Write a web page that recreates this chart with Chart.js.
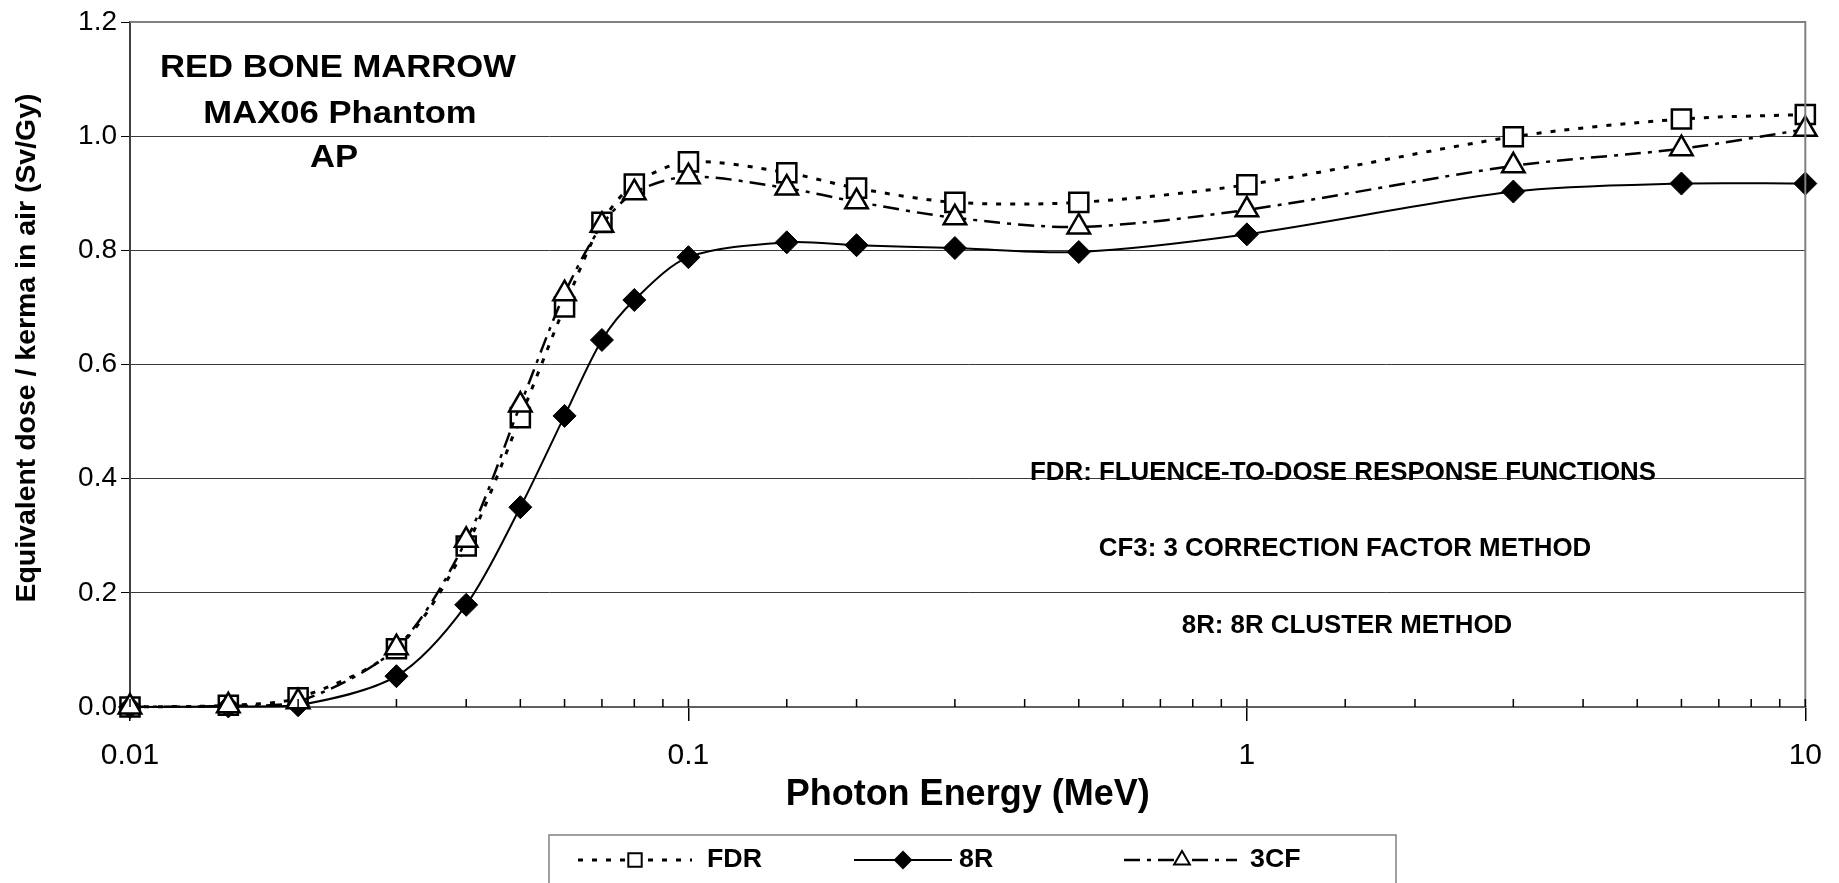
<!DOCTYPE html>
<html lang="en">
<head>
<meta charset="UTF-8" />
<title>Red bone marrow - MAX06 Phantom AP</title>
<script src="https://cdn.jsdelivr.net/npm/chart.js@4.4.1/dist/chart.umd.min.js"></script>
<style>
  html, body { margin: 0; padding: 0; background: #fff; }
  #wrap { position: relative; width: 1839px; height: 883px; overflow: hidden; }
</style>
</head>
<body>
<div id="wrap"><canvas id="chart" width="1839" height="883"></canvas></div>
<script>
// photon energies (MeV) and the three conversion coefficient curves (Sv/Gy)
const energies = [0.01, 0.015, 0.02, 0.03, 0.04, 0.05, 0.06, 0.07, 0.08, 0.1, 0.15, 0.2, 0.3, 0.5, 1, 3, 6, 10];
const fdr = [0.000, 0.003, 0.016, 0.102, 0.282, 0.507, 0.701, 0.849, 0.916, 0.955, 0.936, 0.909, 0.884, 0.884, 0.915, 0.999, 1.030, 1.038];
const r8  = [0.000, 0.001, 0.003, 0.054, 0.179, 0.350, 0.510, 0.643, 0.713, 0.788, 0.814, 0.809, 0.804, 0.797, 0.828, 0.903, 0.917, 0.917];
const cf3 = [0.000, 0.002, 0.009, 0.104, 0.292, 0.529, 0.724, 0.844, 0.901, 0.929, 0.909, 0.885, 0.857, 0.841, 0.871, 0.948, 0.978, 1.012];

const xTickLabels = ["0.01", "0.1", "1", "10"];
const yTickLabels = ["0.0", "0.2", "0.4", "0.6", "0.8", "1.0", "1.2"];
const yTitle = "Equivalent dose / kerma in air (Sv/Gy)";
const titleLines = ["RED BONE MARROW", "MAX06 Phantom", "AP"];
const notes = ["FDR: FLUENCE-TO-DOSE RESPONSE FUNCTIONS", "CF3: 3 CORRECTION FACTOR METHOD", "8R: 8R CLUSTER METHOD"];
const seriesNames = ["FDR", "8R", "3CF"];

const FONT = '"Liberation Sans", Arial, Helvetica, sans-serif';

function isPow10(v) {
  const l = Math.log10(v);
  return Math.abs(l - Math.round(l)) < 1e-6;
}

function pts(arr) { return energies.map((e, i) => ({ x: e, y: arr[i] })); }

// bold text, squeezed horizontally by sx
function drawText(ctx, text, cx, cy, size, sx, align, rot) {
  ctx.save();
  ctx.font = "bold " + size + "px " + FONT;
  ctx.translate(cx, cy);
  if (rot) ctx.rotate(rot);
  ctx.scale(sx, 1);
  ctx.fillStyle = "#000";
  ctx.textAlign = align || "center";
  ctx.textBaseline = "middle";
  ctx.fillText(text, 0, 0);
  ctx.restore();
}

function scaleFor(ctx, text, size, width) {
  ctx.save();
  ctx.font = "bold " + size + "px " + FONT;
  const w = ctx.measureText(text).width;
  ctx.restore();
  return width / w;
}

function marker(ctx, style, x, y, r, fill, lw) {
  ctx.save();
  ctx.setLineDash([]);
  ctx.lineWidth = lw;
  ctx.strokeStyle = "#000";
  ctx.fillStyle = fill;
  ctx.beginPath();
  if (style === "rect") {
    const s = r * Math.SQRT1_2;
    ctx.rect(x - s, y - s, 2 * s, 2 * s);
  } else if (style === "rectRot") {
    ctx.moveTo(x - r, y); ctx.lineTo(x, y - r); ctx.lineTo(x + r, y); ctx.lineTo(x, y + r); ctx.closePath();
  } else {
    ctx.moveTo(x, y - r);
    ctx.lineTo(x + r * Math.sin(2 * Math.PI / 3), y - r * Math.cos(2 * Math.PI / 3));
    ctx.lineTo(x + r * Math.sin(4 * Math.PI / 3), y - r * Math.cos(4 * Math.PI / 3));
    ctx.closePath();
  }
  ctx.fill();
  ctx.stroke();
  ctx.restore();
}

const decorPlugin = {
  id: "decor",
  afterDraw(chart) {
    const { ctx, chartArea: a, scales } = chart;
    const xs = scales.x;

    // grey frame on top and right
    ctx.save();
    ctx.strokeStyle = "#808080";
    ctx.lineWidth = 2;
    ctx.beginPath();
    ctx.moveTo(a.left, a.top); ctx.lineTo(a.right, a.top); ctx.lineTo(a.right, a.bottom);
    ctx.stroke();

    // tick marks pointing into the plot
    ctx.strokeStyle = "#000";
    ctx.lineWidth = 1.5;
    xs.ticks.forEach((t) => {
      const px = xs.getPixelForValue(t.value);
      ctx.beginPath();
      ctx.moveTo(px, a.bottom);
      ctx.lineTo(px, a.bottom - 8);
      ctx.stroke();
    });
    ctx.restore();

    // y axis title
    drawText(ctx, yTitle, 27, 348, 28, scaleFor(ctx, yTitle, 28, 509), "center", -Math.PI / 2);

    // annotations
    const st = scaleFor(ctx, titleLines[0], 32, 356);
    drawText(ctx, titleLines[0], 338, 68, 32, st);
    drawText(ctx, titleLines[1], 340, 114, 32, st);
    drawText(ctx, titleLines[2], 334, 158, 32, st);
    const sn = scaleFor(ctx, notes[0], 25, 626);
    drawText(ctx, notes[0], 1343, 473, 25, sn);
    drawText(ctx, notes[1], 1345, 549, 25, sn);
    drawText(ctx, notes[2], 1347, 626, 25, sn);

    // legend
    ctx.save();
    ctx.strokeStyle = "#808080";
    ctx.lineWidth = 1.5;
    ctx.strokeRect(549, 835, 847, 60);
    ctx.restore();
    const items = [
      { x0: 578, x1: 692, mx: 635, tx: 707 },
      { x0: 854, x1: 952, mx: 903, tx: 959 },
      { x0: 1124, x1: 1237, mx: 1182, tx: 1250 },
    ];
    const ly = 860;
    const sl = scaleFor(ctx, seriesNames[0], 25, 55);
    chart.data.datasets.forEach((ds, i) => {
      const it = items[i];
      ctx.save();
      ctx.strokeStyle = "#000";
      ctx.lineWidth = ds.borderWidth;
      ctx.setLineDash(ds.borderDash);
      ctx.beginPath();
      ctx.moveTo(it.x0, ly); ctx.lineTo(it.x1, ly);
      ctx.stroke();
      ctx.restore();
      marker(ctx, ds.pointStyle, it.mx, ly, ds.pointRadius * 0.7, ds.pointBackgroundColor, 2);
      drawText(ctx, seriesNames[i], it.tx, ly, 25, sl, "left");
    });
  },
};

new Chart(document.getElementById("chart"), {
  type: "scatter",
  data: {
    datasets: [
      {
        label: seriesNames[0], data: pts(fdr), showLine: true, tension: 0.3, clip: false, order: 2,
        borderColor: "#000", borderWidth: 3, borderDash: [5, 9],
        pointStyle: "rect", pointRadius: 13.5, pointBorderWidth: 2.5,
        pointBackgroundColor: "#fff", pointBorderColor: "#000",
      },
      {
        label: seriesNames[1], data: pts(r8), showLine: true, tension: 0.3, clip: false, order: 1,
        borderColor: "#000", borderWidth: 2, borderDash: [],
        pointStyle: "rectRot", pointRadius: 11.5, pointBorderWidth: 1,
        pointBackgroundColor: "#000", pointBorderColor: "#000",
      },
      {
        label: seriesNames[2], data: pts(cf3), showLine: true, tension: 0.3, clip: false, order: 0,
        borderColor: "#000", borderWidth: 2.5, borderDash: [16, 7, 4, 7],
        pointStyle: "triangle", pointRadius: 13, pointBorderWidth: 2.5,
        pointBackgroundColor: "#fff", pointBorderColor: "#000",
      },
    ],
  },
  options: {
    responsive: false,
    animation: false,
    devicePixelRatio: 1,
    layout: { padding: { top: 22, right: 33, left: 0, bottom: 0 } },
    plugins: { legend: { display: false }, tooltip: { enabled: false } },
    scales: {
      x: {
        type: "logarithmic",
        min: 0.01,
        max: 10,
        afterFit: (s) => { s.height = 176; },
        border: { display: true, color: "#606060", width: 2 },
        grid: {
          drawOnChartArea: false,
          drawTicks: true,
          tickLength: 14,
          lineWidth: 1.5,
          color: (c) => (c.tick && isPow10(c.tick.value) ? "#000" : "rgba(0,0,0,0)"),
        },
        ticks: {
          autoSkip: false,
          maxRotation: 0,
          padding: 17,
          color: "#000",
          font: { family: FONT, size: 30 },
          callback: (v) => (isPow10(v) ? xTickLabels[Math.round(Math.log10(v)) + 2] : ""),
        },
        title: {
          display: true,
          text: "Photon Energy (MeV)",
          color: "#000",
          font: { family: FONT, size: 36, weight: "bold" },
          padding: { top: 0, bottom: 66 },
        },
      },
      y: {
        min: 0,
        max: 1.2,
        afterFit: (s) => { s.width = 130; },
        border: { display: true, color: "#404040", width: 2 },
        grid: {
          drawTicks: true,
          tickLength: 9,
          lineWidth: 1,
          color: (c) => (c.tick && c.tick.value > 1.19 ? "#808080" : "#3a3a3a"),
          tickColor: "#000",
        },
        ticks: {
          stepSize: 0.2,
          padding: 4,
          color: "#000",
          font: { family: FONT, size: 28 },
          callback: (v) => yTickLabels[Math.round(v / 0.2)],
        },
      },
    },
  },
  plugins: [decorPlugin],
});
</script>
</body>
</html>
